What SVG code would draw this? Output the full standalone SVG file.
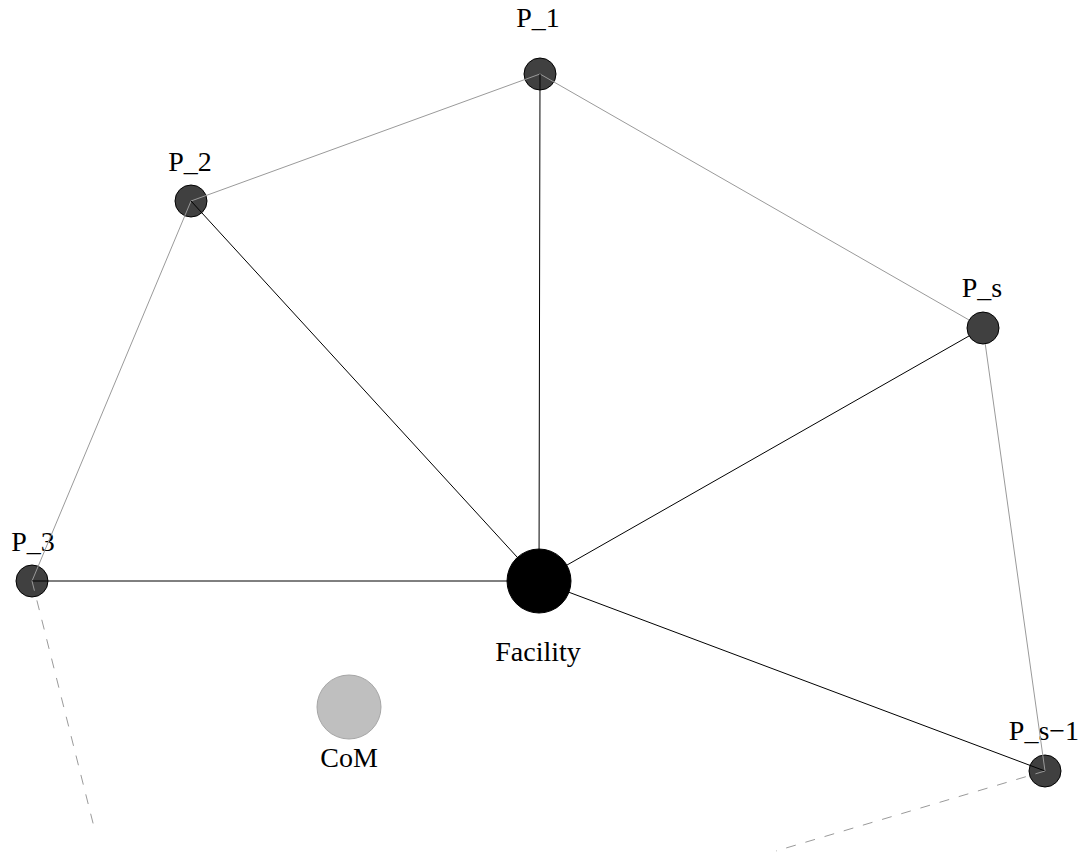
<svg xmlns="http://www.w3.org/2000/svg" width="1087" height="854" viewBox="0 0 1087 854">
<style>
.node{fill:#404040;stroke:#000;stroke-width:1}
.fac{fill:#000;stroke:#000}
.com{fill:#bfbfbf;stroke:#a6a6a6;stroke-width:1}
.lbl{font-family:"Liberation Serif","Times New Roman",serif;font-size:28px;fill:#000;text-anchor:middle}
.gray{stroke:#9a9a9a;stroke-width:1;fill:none}
.blk{stroke:#000;stroke-width:1;fill:none}
.dash{stroke:#9a9a9a;stroke-width:1;fill:none;stroke-dasharray:10,10}
</style>
<rect width="1087" height="854" fill="#fff"/>
<g id="P_1"><circle class="node" cx="540" cy="74" r="16"/><text class="lbl" x="538" y="27">P_1</text></g>
<g id="P_2"><circle class="node" cx="191" cy="201" r="16"/><text class="lbl" x="190" y="171">P_2</text></g>
<g id="P_3"><circle class="node" cx="32" cy="581" r="16"/><text class="lbl" x="33" y="551">P_3</text></g>
<g id="P_s-1"><circle class="node" cx="1045" cy="771" r="16"/><text class="lbl" x="1044" y="740">P_s−1</text></g>
<g id="Facility"><circle class="fac" cx="539" cy="581" r="32"/><text class="lbl" x="538" y="661">Facility</text></g>
<g id="CoM"><circle class="com" cx="349" cy="707" r="32"/><text class="lbl" x="349" y="767">CoM</text></g>
<g id="connectors">
<line class="gray" x1="191" y1="201" x2="540" y2="74"/>
<line class="gray" x1="540" y1="74" x2="983" y2="328"/>
<line class="gray" x1="983" y1="328" x2="1045" y2="771"/>
<line class="gray" x1="191" y1="201" x2="32" y2="581"/>
<line class="blk" x1="539" y1="581" x2="540" y2="74"/>
<line class="blk" x1="539" y1="581" x2="191" y2="201"/>
<line class="blk" x1="539" y1="581" x2="32" y2="581"/>
<line class="blk" x1="539" y1="581" x2="983" y2="328"/>
<line class="blk" x1="539" y1="581" x2="1045" y2="771"/>
<line class="dash" x1="32" y1="581" x2="94" y2="827"/>
<line class="dash" x1="1045" y1="771" x2="776" y2="851"/>
</g>
<g id="P_s"><circle class="node" cx="983" cy="328" r="16"/><text class="lbl" x="982" y="297">P_s</text></g>
</svg>
